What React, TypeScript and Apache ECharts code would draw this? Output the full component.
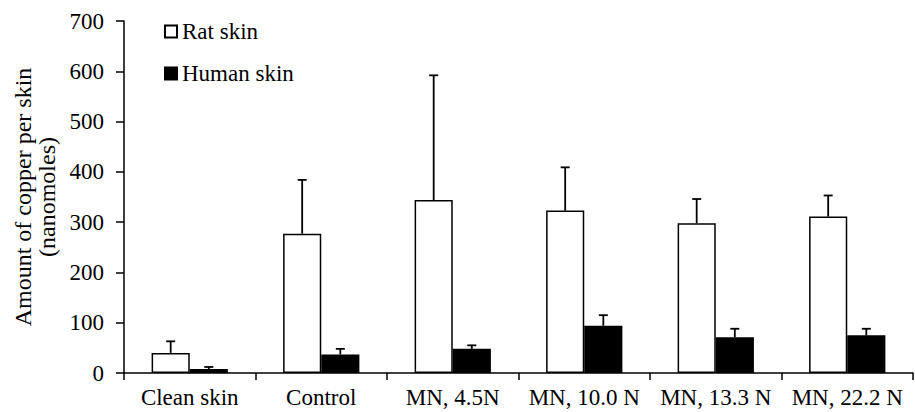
import React, { useEffect, useRef } from "react";
import * as echarts from "echarts";

const categories = ["Clean skin", "Control", "MN, 4.5N", "MN, 10.0 N", "MN, 13.3 N", "MN, 22.2 N"];
const ratMean = [40, 277, 344, 323, 298, 311];
const ratSD = [23, 107, 248, 86, 48, 42];
const humanMean = [8, 37, 48, 94, 71, 75];
const humanSD = [4, 11, 7, 21, 17, 13];
const yTicks = { min: 0, max: 700, interval: 100 };

const FONT = "'Liberation Serif', 'Times New Roman', serif";
const CAT_GAP = 0.42;

function errData(means: number[], sds: number[]) {
  return means.map((m, i) => [i, m, m + sds[i]]);
}

function makeErr(side: number) {
  return (params: any, api: any) => {
    const i = api.value(0);
    const base = api.coord([i, api.value(1)]);
    const top = api.coord([i, api.value(2)]);
    const band = api.size([1, 0])[0];
    const barW = (band * (1 - CAT_GAP)) / 2;
    const x = base[0] + side * barW / 2;
    const cap = 4.5;
    return {
      type: "group",
      children: [
        { type: "line", shape: { x1: x, y1: base[1], x2: x, y2: top[1] }, style: { stroke: "#000", lineWidth: 1.8 } },
        { type: "line", shape: { x1: x - cap, y1: top[1], x2: x + cap, y2: top[1] }, style: { stroke: "#000", lineWidth: 1.8 } },
      ],
    };
  };
}

export default function App() {
  const ref = useRef<HTMLDivElement>(null);
  useEffect(() => {
    document.body.style.margin = "0";
    const chart = echarts.init(ref.current!, null, { renderer: "svg" });
    chart.setOption({
      animation: false,
      textStyle: { fontFamily: FONT, color: "#000" },
      grid: { left: 124, right: 2, top: 21, bottom: 39, containLabel: false },
      legend: {
        data: [
          { name: "Rat skin", icon: "rect" },
          { name: "Human skin", icon: "rect" },
        ],
        orient: "vertical",
        left: 159,
        top: 15,
        itemWidth: 12,
        itemHeight: 12,
        itemGap: 19,
        textStyle: { fontFamily: FONT, fontSize: 23, color: "#000" },
      },
      xAxis: {
        type: "category",
        data: categories,
        axisLine: { lineStyle: { color: "#000", width: 1.5 } },
        axisTick: { show: true, length: 7, lineStyle: { color: "#000", width: 1.5 } },
        axisLabel: { fontFamily: FONT, fontSize: 23, color: "#000", margin: 13, interval: 0 },
      },
      yAxis: {
        type: "value",
        min: yTicks.min,
        max: yTicks.max,
        interval: yTicks.interval,
        name: "Amount of copper per skin\n(nanomoles)",
        nameLocation: "middle",
        nameGap: 64,
        nameTextStyle: { fontFamily: FONT, fontSize: 24, color: "#000", lineHeight: 24 },
        axisLine: { show: true, lineStyle: { color: "#000", width: 1.5 } },
        axisTick: { show: true, length: 8, lineStyle: { color: "#000", width: 1.5 } },
        axisLabel: { fontFamily: FONT, fontSize: 23, color: "#000", margin: 20 },
        splitLine: { show: false },
      },
      series: [
        {
          name: "Rat skin",
          type: "bar",
          data: ratMean,
          barGap: "0%",
          barCategoryGap: "42%",
          itemStyle: { color: "#fff", borderColor: "#000", borderWidth: 1.5 },
        },
        {
          name: "Human skin",
          type: "bar",
          data: humanMean,
          barGap: "0%",
          barCategoryGap: "42%",
          itemStyle: { color: "#000", borderColor: "#000", borderWidth: 1.5 },
        },
        {
          type: "custom",
          name: "ratErr",
          data: errData(ratMean, ratSD),
          renderItem: makeErr(-1),
          encode: { x: 0, y: [1, 2] },
          z: 5,
        },
        {
          type: "custom",
          name: "humanErr",
          data: errData(humanMean, humanSD),
          renderItem: makeErr(1),
          encode: { x: 0, y: [1, 2] },
          z: 5,
        },
      ],
    });
    return () => chart.dispose();
  }, []);
  return <div ref={ref} style={{ width: 915, height: 412 }} />;
}
